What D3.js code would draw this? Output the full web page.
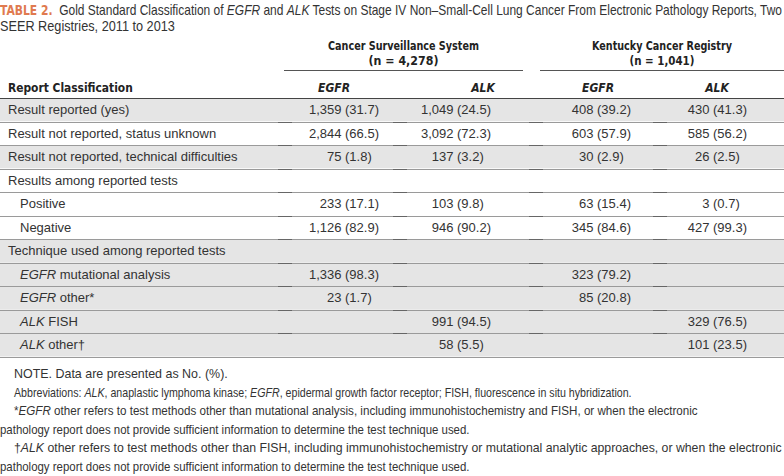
<!DOCTYPE html>
<html>
<head>
<meta charset="utf-8">
<script src="https://cdn.jsdelivr.net/npm/d3@7"></script>
<style>
  body { margin: 0; background: #fff; }
  svg { display: block; }
  text { font-family: "Liberation Sans", Arial, sans-serif; fill: #333; }
  text.hd { font-family: "DejaVu Sans Condensed", "Liberation Sans", sans-serif; font-weight: bold; fill: #222; }
</style>
</head>
<body>
<script>
const width = 784;
const height = 476;

// Table content
const groups = ["Cancer Surveillance System", "Kentucky Cancer Registry"];
const groupN = ["(n = 4,278)", "(n = 1,041)"];
const columns = ["EGFR", "ALK", "EGFR", "ALK"];

// label parts: [italic prefix, plain rest], indent flag, shaded flag
const rows = [
  { label: ["", "Result reported (yes)"], indent: false, shade: true },
  { label: ["", "Result not reported, status unknown"], indent: false, shade: false },
  { label: ["", "Result not reported, technical difficulties"], indent: false, shade: true },
  { label: ["", "Results among reported tests"], indent: false, shade: false },
  { label: ["", "Positive"], indent: true, shade: false },
  { label: ["", "Negative"], indent: true, shade: false },
  { label: ["", "Technique used among reported tests"], indent: false, shade: true },
  { label: ["EGFR", " mutational analysis"], indent: true, shade: true },
  { label: ["EGFR", " other*"], indent: true, shade: true },
  { label: ["ALK", " FISH"], indent: true, shade: true },
  { label: ["ALK", " other\u2020"], indent: true, shade: true }
];

// counts and percents per column (null = empty cell)
const cssEgfrN = [1359, 2844, 75, null, 233, 1126, null, 1336, 23, null, null];
const cssEgfrP = [31.7, 66.5, 1.8, null, 17.1, 82.9, null, 98.3, 1.7, null, null];
const cssAlkN = [1049, 3092, 137, null, 103, 946, null, null, null, 991, 58];
const cssAlkP = [24.5, 72.3, 3.2, null, 9.8, 90.2, null, null, null, 94.5, 5.5];
const kcrEgfrN = [408, 603, 30, null, 63, 345, null, 323, 85, null, null];
const kcrEgfrP = [39.2, 57.9, 2.9, null, 15.4, 84.6, null, 79.2, 20.8, null, null];
const kcrAlkN = [430, 585, 26, null, 3, 427, null, null, null, 329, 101];
const kcrAlkP = [41.3, 56.2, 2.5, null, 0.7, 99.3, null, null, null, 76.5, 23.5];

const seriesN = [cssEgfrN, cssAlkN, kcrEgfrN, kcrAlkN];
const seriesP = [cssEgfrP, cssAlkP, kcrEgfrP, kcrAlkP];

const footnotes = [
  { x: 14, w: 214, parts: [["NOTE. Data are presented as No. (%).", false]] },
  { x: 14, w: 618, parts: [["Abbreviations: ", false], ["ALK", true], [", anaplastic lymphoma kinase; ", false], ["EGFR", true], [", epidermal growth factor receptor; FISH, fluorescence in situ hybridization.", false]] },
  { x: 14, w: 684, parts: [["*", false], ["EGFR", true], [" other refers to test methods other than mutational analysis, including immunohistochemistry and FISH, or when the electronic", false]] },
  { x: 0, w: 470, parts: [["pathology report does not provide sufficient information to determine the test technique used.", false]] },
  { x: 14, w: 769, parts: [["\u2020", false], ["ALK", true], [" other refers to test methods other than FISH, including immunohistochemistry or mutational analytic approaches, or when the electronic", false]] },
  { x: 0, w: 470, parts: [["pathology report does not provide sufficient information to determine the test technique used.", false]] }
];

const svg = d3.select("body").append("svg")
  .attr("width", width)
  .attr("height", height);

// squeeze a text horizontally to a given width, around its own x
function fit(t, w) {
  const x = +t.attr("x"), y = +t.attr("y");
  const k = w / t.node().getComputedTextLength();
  t.attr("transform", `translate(${x},${y}) scale(${k},1) translate(${-x},${-y})`);
}

// Title
const title = svg.append("text").attr("x", 0).attr("y", 15).style("font-size", "14px");
title.append("tspan").text("TABLE 2.")
  .style("fill", "#e07a4f").style("font-weight", "bold")
  .style("font-family", "'DejaVu Sans Condensed', sans-serif");
title.append("tspan").text("\u00a0 Gold Standard Classification of ");
title.append("tspan").text("EGFR").style("font-style", "italic");
title.append("tspan").text(" and ");
title.append("tspan").text("ALK").style("font-style", "italic");
title.append("tspan").text(" Tests on Stage IV Non\u2013Small-Cell Lung Cancer From Electronic Pathology Reports, Two");
fit(title, 783);
const title2 = svg.append("text").attr("x", 0).attr("y", 31).style("font-size", "14px")
  .text("SEER Registries, 2011 to 2013");
fit(title2, 175);

// Scales
const yRow = d3.scaleBand().domain(d3.range(rows.length)).range([98, 356.5]);
const xCol = d3.scaleOrdinal().domain(d3.range(columns.length)).range([334, 483, 598, 717]);
const xParen = d3.scaleOrdinal().domain(d3.range(columns.length)).range([345, 457, 597, 713]);
const xGroup = d3.scaleOrdinal().domain(d3.range(groups.length)).range([[284, 523], [540, 784]]);
const groupW = [151, 140];

// Group headers
groups.forEach((g, i) => {
  const [a, b] = xGroup(i);
  const cx = (a + b) / 2;
  const t1 = svg.append("text").attr("class", "hd").attr("x", cx).attr("y", 50).attr("text-anchor", "middle")
    .style("font-size", "12.5px").text(g);
  fit(t1, groupW[i]);
  const t2 = svg.append("text").attr("class", "hd").attr("x", cx).attr("y", 65.5).attr("text-anchor", "middle")
    .style("font-size", "12.5px").text(groupN[i]);
  fit(t2, i === 0 ? 70 : 65);
  svg.append("line").attr("x1", a).attr("x2", b).attr("y1", 70.5).attr("y2", 70.5)
    .attr("stroke", "#555").attr("stroke-width", 1);
});

// Column header row
const rc = svg.append("text").attr("class", "hd").attr("x", 8).attr("y", 92).style("font-size", "13px")
  .text("Report Classification");
fit(rc, 125);
svg.selectAll("text.colhead").data(columns).enter().append("text")
  .attr("class", "hd colhead")
  .attr("x", (d, i) => xCol(i)).attr("y", 92).attr("text-anchor", "middle")
  .style("font-size", "12px").style("font-style", "italic")
  .text(d => d);

// Row shading
svg.selectAll("rect.shade").data(rows).enter().append("rect")
  .attr("class", "shade")
  .attr("x", 0).attr("width", width)
  .attr("y", (d, i) => yRow(i)).attr("height", yRow.bandwidth())
  .attr("fill", d => d.shade ? "#e5e5e5" : "#fff");

// Row separators
svg.selectAll("line.sep").data(d3.range(1, rows.length + 1)).enter().append("line")
  .attr("class", "sep")
  .attr("x1", 0).attr("x2", width)
  .attr("y1", i => Math.round(yRow.step() * i + 98) + 0.5)
  .attr("y2", i => Math.round(yRow.step() * i + 98) + 0.5)
  .attr("stroke", "#9a9a9a").attr("stroke-width", 1);

// small darker marks at column borders
const borders = [285, 400, 536, 660];
d3.range(1, rows.length).forEach(i => {
  const y = Math.round(yRow.step() * i + 98) + 0.5;
  borders.forEach(bx => {
    svg.append("line").attr("x1", bx - 7).attr("x2", bx + 7).attr("y1", y).attr("y2", y)
      .attr("stroke", "#666").attr("stroke-width", 1);
  });
});

// header rule
svg.append("line").attr("x1", 0).attr("x2", width).attr("y1", 98.5).attr("y2", 98.5)
  .attr("stroke", "#444").attr("stroke-width", 1.2);

// Row labels
rows.forEach((r, i) => {
  const t = svg.append("text")
    .attr("x", r.indent ? 20 : 8)
    .attr("y", yRow(i) + yRow.bandwidth() / 2 + 4.5)
    .style("font-size", "13px");
  if (r.label[0]) t.append("tspan").style("font-style", "italic").text(r.label[0]);
  t.append("tspan").text(r.label[1]);
});

// Cells
const fmt = d3.format(",");
seriesN.forEach((col, c) => {
  col.forEach((n, i) => {
    if (n === null) return;
    const y = yRow(i) + yRow.bandwidth() / 2 + 4.5;
    svg.append("text").attr("x", xParen(c) - 3.5).attr("y", y).attr("text-anchor", "end")
      .style("font-size", "13px").text(fmt(n));
    svg.append("text").attr("x", xParen(c)).attr("y", y)
      .style("font-size", "13px").text("(" + d3.format(".1f")(seriesP[c][i]) + ")");
  });
});

// Footnotes
footnotes.forEach((f, i) => {
  const t = svg.append("text").attr("x", f.x).attr("y", 378 + i * 18.6)
    .style("font-size", "13px");
  f.parts.forEach(p => {
    const s = t.append("tspan").text(p[0]);
    if (p[1]) s.style("font-style", "italic");
  });
  fit(t, f.w);
});
</script>
</body>
</html>
